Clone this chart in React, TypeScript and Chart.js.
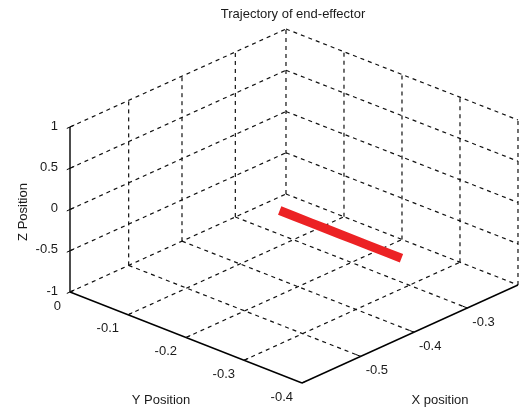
import React, { useEffect, useRef } from "react";
import { Chart, registerables } from "chart.js";

Chart.register(...registerables);

const W = 527;
const H = 409;

// Axis limits (3D)
const xLimits = [-0.61, -0.205];
const yLimits = [0, -0.4];
const zLimits = [-1, 1];

// Ticks
const xTicks = [-0.5, -0.4, -0.3];
const xTickLabels = ["-0.5", "-0.4", "-0.3"];
const yTicks = [0, -0.1, -0.2, -0.3, -0.4];
const yTickLabels = ["0", "-0.1", "-0.2", "-0.3", "-0.4"];
const zTicks = [-1, -0.5, 0, 0.5, 1];
const zTickLabels = ["-1", "-0.5", "0", "0.5", "1"];

// Trajectory of the end-effector
const trajX = [-0.43, -0.43, -0.43, -0.43, -0.43, -0.43, -0.43, -0.43, -0.43];
const trajY = [-0.196, -0.22, -0.25, -0.275, -0.3, -0.325, -0.35, -0.38, -0.406];
const trajZ = [0, 0, 0, 0, 0, 0, 0, 0, 0];

const TITLE = "Trajectory of end-effector";
const X_LABEL = "X position";
const Y_LABEL = "Y Position";
const Z_LABEL = "Z Position";

// View (orthographic projection of the 3D box onto the canvas plane)
const VIEW = {
  origin: [70, 292],
  ex: [533.3, -242.0],
  ey: [-580, -227.5],
  ez: [0, -82.5],
};

function proj(x: number, y: number, z: number) {
  const dx = x - xLimits[0];
  const dy = y - yLimits[0];
  const dz = z - zLimits[0];
  return {
    x: VIEW.origin[0] + dx * VIEW.ex[0] + dy * VIEW.ey[0] + dz * VIEW.ez[0],
    y: VIEW.origin[1] + dx * VIEW.ex[1] + dy * VIEW.ey[1] + dz * VIEW.ez[1],
  };
}

type P3 = [number, number, number];

function seg(a: P3, b: P3, style: any) {
  return {
    data: [proj(a[0], a[1], a[2]), proj(b[0], b[1], b[2])],
    showLine: true,
    pointRadius: 0,
    fill: false,
    order: 5,
    ...style,
  };
}

export default function App() {
  const ref = useRef<HTMLCanvasElement | null>(null);

  useEffect(() => {
    document.body.style.margin = "0";
    const canvas = ref.current;
    if (!canvas) return;

    const [x0, x1] = xLimits;
    const [y0, y1] = yLimits;
    const [z0, z1] = zLimits;
    const dashed = { borderColor: "#111", borderWidth: 1.2, borderDash: [4, 4] };
    const solid = { borderColor: "#000", borderWidth: 1.4 };

    const datasets: any[] = [];
    // floor grid (z = zmin)
    yTicks.filter((v) => v !== y0 && v !== y1).forEach((v) => datasets.push(seg([x0, v, z0], [x1, v, z0], dashed)));
    xTicks.forEach((v) => datasets.push(seg([v, y0, z0], [v, y1, z0], dashed)));
    datasets.push(seg([x0, y0, z0], [x1, y0, z0], dashed));
    datasets.push(seg([x1, y0, z0], [x1, y1, z0], dashed));
    // back wall y = y0
    xTicks.forEach((v) => datasets.push(seg([v, y0, z0], [v, y0, z1], dashed)));
    datasets.push(seg([x1, y0, z0], [x1, y0, z1], dashed));
    zTicks.filter((v) => v !== z0).forEach((v) => datasets.push(seg([x0, y0, v], [x1, y0, v], dashed)));
    // back wall x = x1
    yTicks.filter((v) => v !== y0 && v !== y1).forEach((v) => datasets.push(seg([x1, v, z0], [x1, v, z1], dashed)));
    datasets.push(seg([x1, y1, z0], [x1, y1, z1], dashed));
    zTicks.filter((v) => v !== z0).forEach((v) => datasets.push(seg([x1, y0, v], [x1, y1, v], dashed)));

    // solid axes
    datasets.push(seg([x0, y0, z0], [x0, y0, z1], solid));
    datasets.push(seg([x0, y0, z0], [x0, y1, z0], solid));
    datasets.push(seg([x0, y1, z0], [x1, y1, z0], solid));

    // tick marks
    const tk = { borderColor: "#000", borderWidth: 1 };
    zTicks.forEach((v) => datasets.push(seg([x0 - 0.006, y0, v], [x0 + 0.008, y0, v], tk)));
    yTicks.forEach((v) => datasets.push(seg([x0, v, z0], [x0 + 0.008, v, z0], tk)));
    xTicks.forEach((v) => datasets.push(seg([v, y1, z0], [v, y1 + 0.008, z0], tk)));

    // trajectory (drawn on top)
    datasets.push({
      data: trajX.map((x, i) => proj(x, trajY[i], trajZ[i])),
      showLine: true,
      pointRadius: 0,
      borderColor: "#ec2224",
      borderWidth: 9,
      borderCapStyle: "butt",
      fill: false,
      order: 0,
    });

    const textPlugin = {
      id: "labels3d",
      afterDraw(chart: any) {
        const ctx = chart.ctx;
        const sx = chart.scales.x;
        const sy = chart.scales.y;
        const px = (p: { x: number; y: number }) => ({ x: sx.getPixelForValue(p.x), y: sy.getPixelForValue(p.y) });
        ctx.save();
        ctx.fillStyle = "#1a1a1a";
        ctx.font = "13px 'Liberation Sans', Arial, sans-serif";
        ctx.textBaseline = "middle";
        // title
        ctx.textAlign = "center";
        ctx.fillText(TITLE, 293, 14);
        // z ticks
        ctx.textAlign = "right";
        zTicks.forEach((v, i) => {
          const p = px(proj(x0, y0, v));
          ctx.fillText(zTickLabels[i], p.x - 12, p.y - 1);
        });
        // y ticks
        yTicks.forEach((v, i) => {
          const p = px(proj(x0, v, z0));
          ctx.fillText(yTickLabels[i], p.x - 9, p.y + 14);
        });
        // x ticks
        ctx.textAlign = "left";
        xTicks.forEach((v, i) => {
          const p = px(proj(v, y1, z0));
          ctx.fillText(xTickLabels[i], p.x + 5, p.y + 14);
        });
        // axis labels
        ctx.textAlign = "center";
        ctx.fillText(Y_LABEL, 161, 400);
        ctx.fillText(X_LABEL, 440, 400);
        ctx.translate(23, 212);
        ctx.rotate(-Math.PI / 2);
        ctx.fillText(Z_LABEL, 0, 0);
        ctx.restore();
      },
    };

    const chart = new Chart(canvas, {
      type: "scatter",
      data: { datasets },
      options: {
        responsive: false,
        animation: false,
        events: [],
        layout: { padding: 0 },
        plugins: { legend: { display: false }, tooltip: { enabled: false }, title: { display: false } },
        scales: {
          x: { type: "linear", display: false, min: 0, max: W },
          y: { type: "linear", display: false, min: 0, max: H, reverse: true },
        },
      },
      plugins: [textPlugin],
    });
    return () => chart.destroy();
  }, []);

  return (
    <div style={{ position: "fixed", left: 0, top: 0, width: W, height: H, background: "#fff" }}>
      <canvas ref={ref} width={W} height={H} style={{ width: W, height: H, display: "block" }} />
    </div>
  );
}
